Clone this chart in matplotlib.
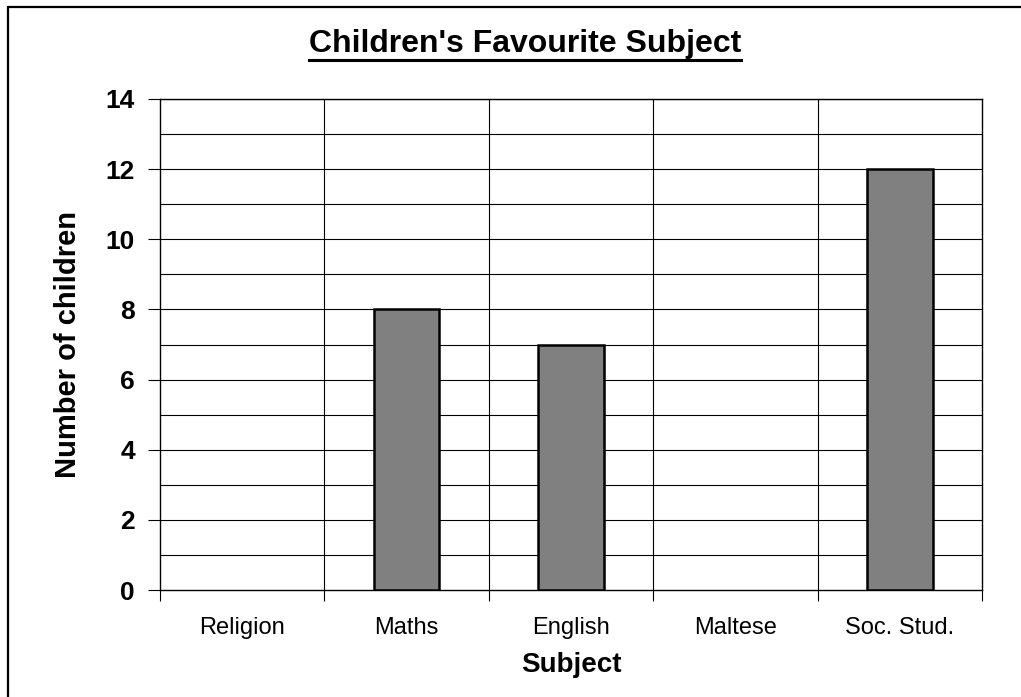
import matplotlib
matplotlib.use('Agg')
import matplotlib.pyplot as plt
from matplotlib.patches import Rectangle
from matplotlib.lines import Line2D
import numpy as np

subjects = ['Religion', 'Maths', 'English', 'Maltese', 'Soc. Stud.']
children = [0, 8, 7, 0, 12]

plt.rcParams['font.family'] = ['Liberation Sans', 'DejaVu Sans']

fig = plt.figure(figsize=(10.21, 6.97), dpi=100)
W, H = 1021, 697
# axes box in pixels: left 160, right 982, top 99, bottom 590
ax = fig.add_axes([160 / W, 1 - 590 / H, (982 - 160) / W, (590 - 99) / H])

x = np.arange(len(subjects))
bars = ax.bar(x, children, width=0.4, color='#808080', edgecolor='black', linewidth=1.8, zorder=3)
for b, v in zip(bars, children):
    if v == 0:
        b.set_visible(False)

ax.set_xlim(-0.5, len(subjects) - 0.5)
ax.set_ylim(0, 14)

# horizontal grid at every unit
for v in range(1, 15):
    ax.axhline(v, color='black', linewidth=0.8, zorder=1)
# vertical lines at category boundaries
for b in np.arange(0.5, len(subjects) - 0.5, 1):
    ax.axvline(b, color='black', linewidth=0.8, zorder=1)

for s in ax.spines.values():
    s.set_linewidth(1.0)
    s.set_color('black')

ax.set_yticks(range(0, 15, 2))
ax.set_yticklabels([str(v) for v in range(0, 15, 2)], fontsize=19, fontweight='bold')
ax.tick_params(axis='y', length=9, width=0.8, pad=9)

ax.set_xticks(np.arange(-0.5, len(subjects), 1))
ax.set_xticklabels([])
ax.tick_params(axis='x', length=8, width=0.8, direction='out')
for i, name in enumerate(subjects):
    ax.text(i, -0.055, name, transform=ax.get_xaxis_transform(), ha='center', va='top', fontsize=17)

ax.set_xlabel('Subject', fontsize=20, fontweight='bold', labelpad=33)
ax.set_ylabel('Number of children', fontsize=21, fontweight='bold', labelpad=17)

title = fig.text(525 / W, 1 - 44 / H, "Children's Favourite Subject", ha='center', va='center',
                 fontsize=23, fontweight='bold')

# figure border
fig.patches.append(Rectangle((8 / W, -0.05), 1.2, 1 - 7 / H + 0.05, transform=fig.transFigure,
                             fill=False, edgecolor='black', linewidth=1.6))

# underline the title
fig.canvas.draw()
bb = title.get_window_extent()
x0, x1 = bb.x0 / W, bb.x1 / W
yline = (bb.y0 - 1) / H
fig.lines.append(Line2D([x0, x1], [yline, yline], transform=fig.transFigure, color='black', linewidth=2.2))

fig.savefig('out.png', dpi=100)
